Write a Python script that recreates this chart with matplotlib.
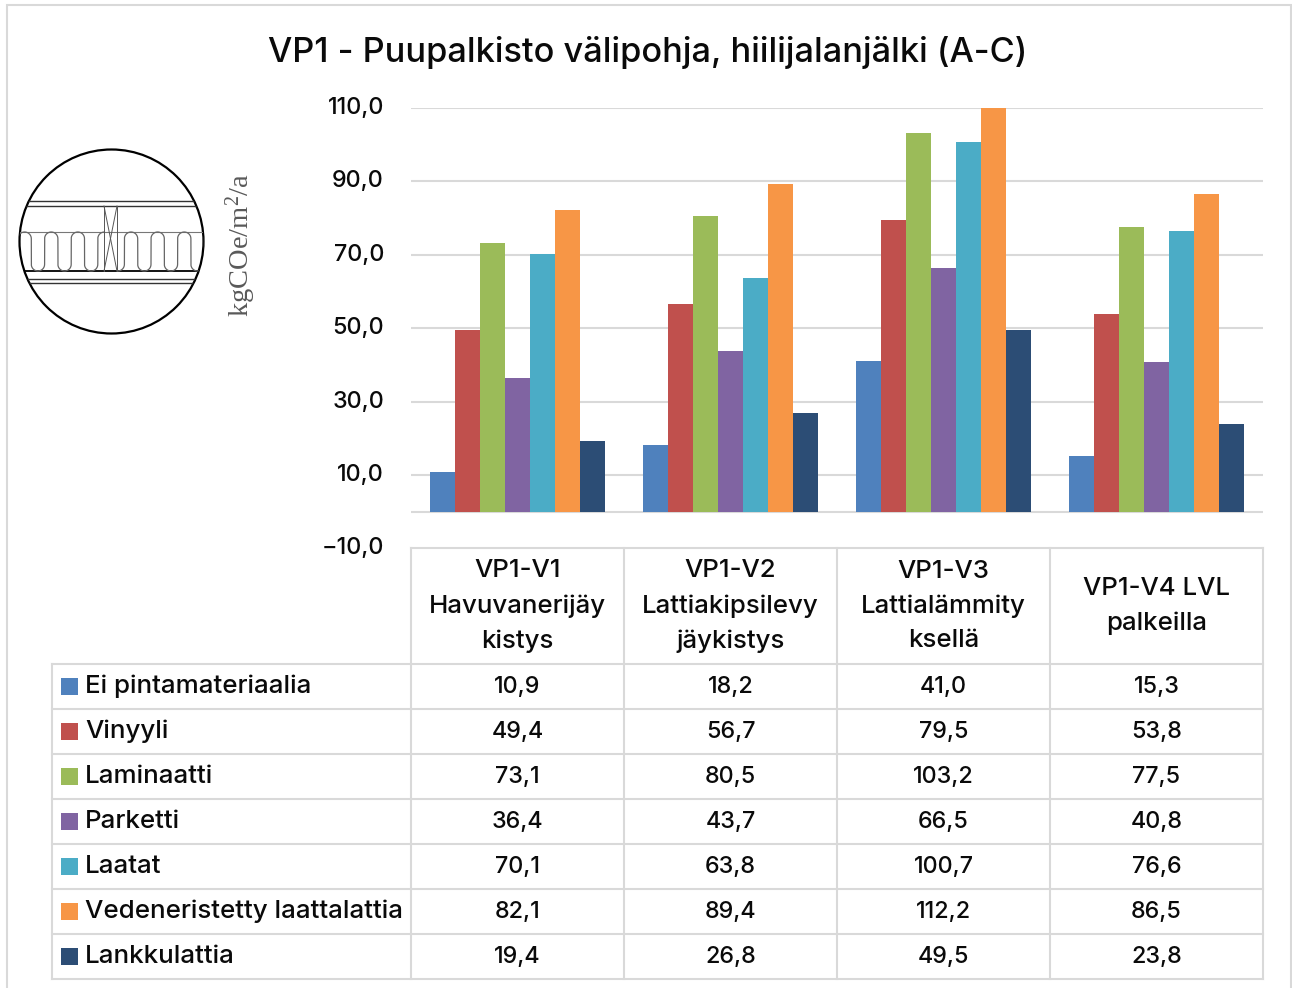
import numpy as np
import matplotlib
matplotlib.use('Agg')
import matplotlib.pyplot as plt
from matplotlib.patches import Circle, Rectangle

plt.rcParams['font.family'] = ['Inter', 'DejaVu Sans']

categories = ['VP1-V1\nHavuvanerijäy\nkistys', 'VP1-V2\nLattiakipsilevy\njäykistys',
              'VP1-V3\nLattialämmity\nksellä', 'VP1-V4 LVL\npalkeilla']
series_names = ['Ei pintamateriaalia', 'Vinyyli', 'Laminaatti', 'Parketti', 'Laatat',
                'Vedeneristetty laattalattia', 'Lankkulattia']
ei_pinta = [10.9, 18.2, 41.0, 15.3]
vinyyli = [49.4, 56.7, 79.5, 53.8]
laminaatti = [73.1, 80.5, 103.2, 77.5]
parketti = [36.4, 43.7, 66.5, 40.8]
laatat = [70.1, 63.8, 100.7, 76.6]
vedeneristetty = [82.1, 89.4, 112.2, 86.5]
lankku = [19.4, 26.8, 49.5, 23.8]
all_series = [ei_pinta, vinyyli, laminaatti, parketti, laatat, vedeneristetty, lankku]
colors = ['#4f81bd', '#c0504d', '#9bbb59', '#8064a2', '#4bacc6', '#f79646', '#2c4d75']
y_ticks = [-10, 10, 30, 50, 70, 90, 110]

W, H = 1292, 988
grid_c = '#d9d9d9'
fs = 16.8
txt_c = '#0a0a0a'


def comma(v):
    return f'{v:.1f}'.replace('.', ',')


fig = plt.figure(figsize=(W / 100, H / 100), dpi=100)

# overlay in pixel coords for frame, table and the little drawing
bg = fig.add_axes([0, 0, 1, 1])
bg.set_xlim(0, W)
bg.set_ylim(H, 0)
bg.axis('off')
bg.add_patch(Rectangle((7, 5), 1284, 1000, fc='white', ec='#d9d9d9', lw=1.5))

# chart
ax = fig.add_axes([411 / W, 1 - 548.5 / H, 852 / W, 440.5 / H])
ax.patch.set_alpha(0)
bar_w = 25 / 213
for i, vals in enumerate(all_series):
    ax.bar(np.arange(4) + (i - 3) * bar_w, vals, bar_w, color=colors[i], zorder=3)
ax.set_xlim(-0.5, 3.5)
ax.set_ylim(-10, 110)
ax.set_yticks(y_ticks)
ax.set_yticklabels([comma(v).replace('-', '\u2212') for v in y_ticks], fontsize=fs, color=txt_c,
                   fontweight='medium', va='center')
ax.set_xticks([])
ax.grid(axis='y', color=grid_c, lw=1.5, zorder=0)
ax.axhline(0, color=grid_c, lw=1.5, zorder=2)
ax.tick_params(axis='y', length=0, pad=19.5)
for s in ax.spines.values():
    s.set_visible(False)

# title, unit
bg.text(648, 52.5, 'VP1 - Puupalkisto välipohja, hiilijalanjälki (A-C)', ha='center', va='center',
        fontsize=24.7, color=txt_c, fontweight='medium')
bg.text(241, 245, 'kgCOe/m$\\mathregular{^2}$/a', rotation=90, ha='center', va='center', fontsize=20.5,
        family='Liberation Serif', color='#595959')

# table grid
col_x = [411, 624, 837, 1050, 1263]
row_y = [664, 709, 754, 799, 844, 889, 934, 979]
for x in col_x:
    bg.plot([x, x], [548, 979], color=grid_c, lw=1.5)
bg.plot([411, 1263], [548, 548], color=grid_c, lw=1.5)
for y in row_y:
    bg.plot([52, 1263], [y, y], color=grid_c, lw=1.5)
bg.plot([52, 52], [664, 979], color=grid_c, lw=1.5)

for j, cat in enumerate(categories):
    bg.text((col_x[j] + col_x[j + 1]) / 2, 606, cat, ha='center', va='center', fontsize=18.6,
            linespacing=1.63, color=txt_c, fontweight='medium')

for i, name in enumerate(series_names):
    yc = (row_y[i] + row_y[i + 1]) / 2
    bg.add_patch(Rectangle((61, yc - 8.5), 17, 17, fc=colors[i], ec='none'))
    bg.text(85, yc, name, ha='left', va='center', fontsize=18.7, color=txt_c, fontweight='medium')
    for j in range(4):
        bg.text((col_x[j] + col_x[j + 1]) / 2, yc, comma(all_series[i][j]), ha='center', va='center',
                fontsize=16.8, color=txt_c, fontweight='medium')

# structure drawing inside the circle
circle = Circle((111.5, 241.5), 92, fc='white', ec='black', lw=1.6, zorder=5)
bg.add_patch(circle)
clip = Circle((111.5, 241.5), 92, transform=bg.transData)


def hline(y, c='#333333', lw=1.0):
    ln, = bg.plot([15, 208], [y, y], color=c, lw=lw, zorder=6)
    ln.set_clip_path(clip)


for y in [200.7, 206, 279, 283.5]:
    hline(y)
hline(231.7, '#777777', 0.8)
hline(271, 'black', 1.3)

# insulation wave, one line broken by the stud
r = 6.65
top, bot = 232, 271
t = np.linspace(0, np.pi, 20)
xs, ys = [], []
x = 18 - 4 * r
up = True
while x < 215:
    xs += list(x + r - r * np.cos(t))
    if up:
        ys += list(top + r - r * np.sin(t))
    else:
        ys += list(bot - r + r * np.sin(t))
    x += 2 * r
    up = not up
xs, ys = np.array(xs), np.array(ys)
ys = np.where((xs > 104) & (xs < 117), np.nan, ys)
ln, = bg.plot(xs, ys, color='#666666', lw=0.9, zorder=6)
ln.set_clip_path(clip)

# stud
for xa, xb in [(104, 104), (117, 117), (104, 117), (117, 104)]:
    bg.plot([xa, xb], [206, 271], color='#555555', lw=0.7, zorder=6)

fig.savefig('out.png', dpi=100)
